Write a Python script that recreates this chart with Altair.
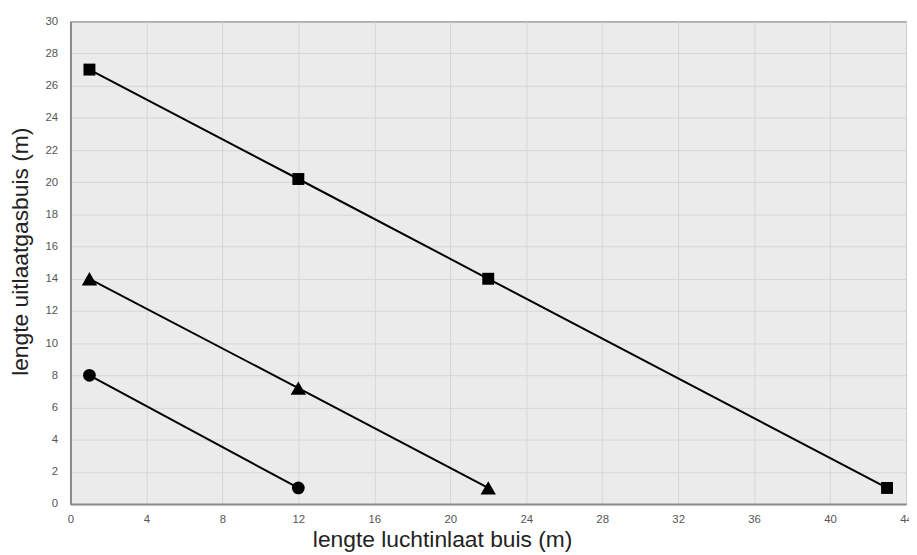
import altair as alt
import pandas as pd

series = ["square", "square", "square", "square",
          "triangle", "triangle", "triangle",
          "circle", "circle"]
x_vals = [1, 12, 22, 43, 1, 12, 22, 1, 12]
y_vals = [27, 20.2, 14, 1, 14, 7.2, 1, 8, 1]
x_ticks = list(range(0, 45, 4))
y_ticks = list(range(0, 31, 2))

df = pd.DataFrame({"s": series, "x": x_vals, "y": y_vals})

font = "Liberation Sans"

x_enc = alt.X("x:Q", scale=alt.Scale(domain=[0, 44], nice=False, zero=False),
              axis=alt.Axis(values=x_ticks, title="lengte luchtinlaat buis (m)",
                            tickSize=0, labelPadding=10, labelFontSize=11.5,
                            labelColor="#555555", labelFont=font,
                            labelBound=False, labelFlush=False, labelOverlap=False,
                            domainColor="#8a8a8a", domainWidth=2,
                            gridColor="#d6d6d6", gridWidth=1,
                            titleFont=font, titleFontSize=23, titleFontWeight="normal",
                            titleColor="#222222", titleX=375, titleY=43,
                            titleAlign="center", titleBaseline="alphabetic"))
y_enc = alt.Y("y:Q", scale=alt.Scale(domain=[0, 30], nice=False, zero=False),
              axis=alt.Axis(values=y_ticks, title="lengte uitlaatgasbuis (m)",
                            tickSize=0, labelPadding=13, labelFontSize=11.5,
                            labelColor="#555555", labelFont=font,
                            labelOverlap=False,
                            domainColor="#8a8a8a", domainWidth=2,
                            gridColor="#d6d6d6", gridWidth=1,
                            titleFont=font, titleFontSize=23, titleFontWeight="normal",
                            titleColor="#222222", titleX=-50, titleY=232,
                            titleAngle=-90, titleAlign="center", titleBaseline="middle"))

base = alt.Chart(df).encode(x=x_enc, y=y_enc)
lines = base.mark_line(color="black", strokeWidth=2).encode(detail="s:N")

def pts(name, shape, size):
    return base.transform_filter(alt.datum.s == name).mark_point(
        filled=True, opacity=1, color="black", shape=shape, size=size)

chart = alt.layer(
    lines,
    pts("square", "square", 145),
    pts("triangle", "triangle-up", 240),
    pts("circle", "circle", 165),
).properties(
    width=843, height=487,
    autosize=alt.AutoSizeParams(type="none"),
    padding={"left": 63, "top": 11, "right": 3, "bottom": 50},
    background="white",
).configure_view(fill="#ebebeb", stroke="#111111", strokeWidth=1)

chart.save("out.html", embed_options={"renderer": "svg", "actions": False})
